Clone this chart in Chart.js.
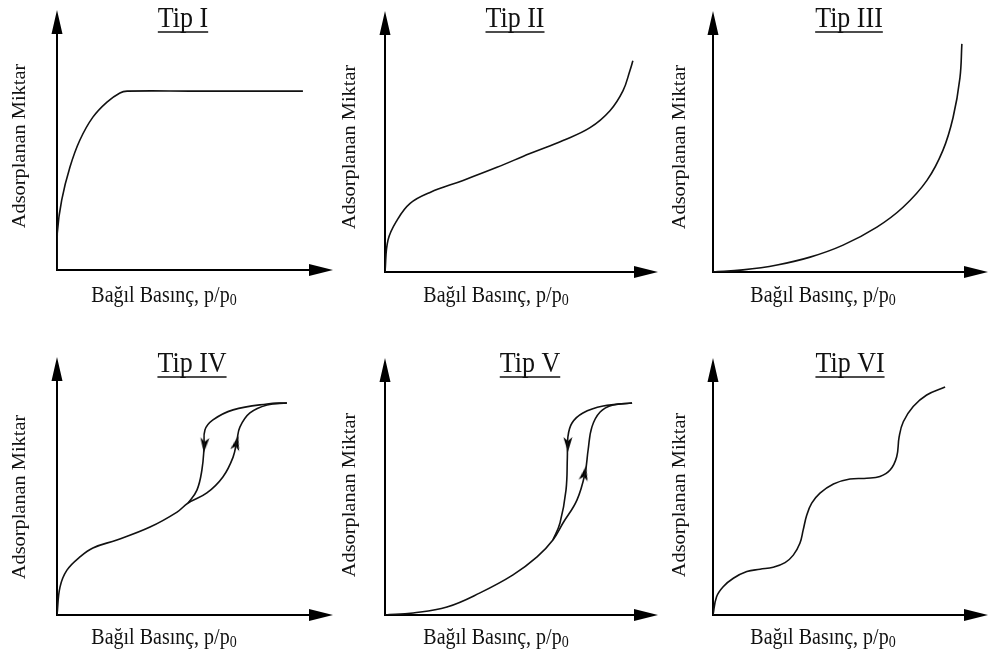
<!DOCTYPE html>
<html>
<head>
<meta charset="utf-8">
<script src="https://cdn.jsdelivr.net/npm/chart.js@4/dist/chart.umd.min.js"></script>
<style>
  html, body { margin: 0; padding: 0; background: #fff; }
  #wrap { position: relative; width: 990px; height: 654px; }
  #wrap canvas { position: absolute; left: 0; top: 0; }
</style>
</head>
<body>
<div id="wrap">
  <canvas id="c0" width="990" height="654"></canvas>
  <canvas id="c1" width="990" height="654"></canvas>
  <canvas id="c2" width="990" height="654"></canvas>
  <canvas id="c3" width="990" height="654"></canvas>
  <canvas id="c4" width="990" height="654"></canvas>
  <canvas id="c5" width="990" height="654"></canvas>
</div>
<script>
// --- textes
const titles = ['Tip I', 'Tip II', 'Tip III', 'Tip IV', 'Tip V', 'Tip VI'];
const xLabel = 'Bağıl Basınç, p/p';
const xLabelSub = '0';
const yLabel = 'Adsorplanan Miktar';

// --- courbes (axes 0..100, 100 = pointe de la flèche)
const tip1X = [0, 0.1, 1.7, 4.7, 8.3, 13, 18.1, 22.8, 25.4, 50, 89.1];
const tip1Y = [0, 14.2, 26.9, 39.6, 50, 58.8, 64.6, 68.1, 68.8, 68.8, 68.8];

const tip2X = [0, 1.1, 4.4, 9.2, 16.5, 28.6, 41, 53.1, 65.2, 75.1, 82.4, 87.2, 89.7, 90.8];
const tip2Y = [0, 12.2, 19.8, 26.3, 30.5, 35.1, 40.1, 45.4, 50.4, 55.3, 61.8, 69.5, 77.1, 80.9];

const tip3X = [0, 10.9, 23.3, 35.3, 47.3, 59.6, 69.1, 77.8, 83.6, 87.3, 89.8, 90.5];
const tip3Y = [0, 0.8, 2.7, 5.7, 10.3, 17.2, 24.8, 35.1, 46.6, 59.2, 74.4, 87.4];

const tip4AdsX = [0, 1.1, 3.6, 8.3, 13, 21.7, 33.7, 43.5, 47.5, 54.3, 60.1, 63.8, 65.2, 66.3, 69.9, 76.1, 83.3];
const tip4AdsY = [0, 10.9, 17.4, 22.5, 26, 29.1, 34.1, 39.9, 43.4, 47.3, 53.5, 61.2, 67.8, 72.9, 78.3, 81.4, 82.2];
const tip4DesX = [83.3, 76.1, 63.8, 56.5, 53.6, 53.3, 52.5, 50.7, 47.5];
const tip4DesY = [82.2, 81.8, 79.5, 75.6, 71.7, 65.1, 56.2, 48.4, 43.4];
const tip4ArrowX = [53.4, 65.0];
const tip4ArrowY = [66, 66.5];
const tip4ArrowRot = [184, 14];

const tip5AdsX = [0, 10.3, 22.7, 34.8, 46.9, 55.7, 61.5, 65.2, 70.3, 73.3, 74.4, 75.8, 78.8, 83.5, 90.5];
const tip5AdsY = [0, 0.8, 3.1, 8.6, 15.6, 22.6, 29.2, 35.8, 44.7, 55.3, 64.2, 73.2, 79, 81.7, 82.5];
const tip5DesX = [90.5, 79.9, 72.5, 68.5, 67.0, 66.8, 66.3, 64.1, 61.5];
const tip5DesY = [82.5, 81.3, 78.6, 74.7, 69.3, 61.5, 48.6, 35.8, 29.2];
const tip5ArrowX = [67.0, 73.1];
const tip5ArrowY = [66.5, 55];
const tip5ArrowRot = [180, 12];

const tip6X = [0, 1.3, 3.7, 7.4, 12.3, 17.1, 21.9, 26.2, 29.2, 31.6, 32.8, 34.1, 35.9, 38.9, 43.8, 49.8, 55.9, 60.7, 64.4, 66.8, 67.7, 69.2, 72.8, 77.7, 84.4];
const tip6Y = [0, 7.1, 11.0, 14.3, 16.9, 17.8, 18.6, 20.4, 23.3, 27.9, 33.1, 38.9, 43.5, 47.4, 51, 52.9, 53.2, 53.9, 56.4, 61.6, 69.4, 75.2, 81.1, 85.6, 88.7];

// --- placement des 6 panneaux (pixels)
const frames = [
  { ox: 57,  oy: 270, tx: 333, ty: 10,  titleX: 183, titleY: 27,  xlX: 164, xlY: 296, ylX: 20,  ylY: 146 },
  { ox: 385, oy: 272, tx: 658, ty: 11,  titleX: 515, titleY: 27,  xlX: 496, xlY: 296, ylX: 350, ylY: 147 },
  { ox: 713, oy: 272, tx: 988, ty: 11,  titleX: 849, titleY: 27,  xlX: 823, xlY: 296, ylX: 680, ylY: 147 },
  { ox: 57,  oy: 615, tx: 333, ty: 357, titleX: 192, titleY: 372, xlX: 164, xlY: 638, ylX: 20,  ylY: 497 },
  { ox: 385, oy: 615, tx: 658, ty: 358, titleX: 530, titleY: 372, xlX: 496, xlY: 638, ylX: 350, ylY: 495 },
  { ox: 713, oy: 615, tx: 988, ty: 358, titleX: 850, titleY: 372, xlX: 823, xlY: 638, ylX: 680, ylY: 495 }
];

const serif = '"Liberation Serif", "DejaVu Serif", serif';
const stretch = 1.13; // le texte de l'original est un peu étiré en hauteur

function pts(xs, ys) {
  return xs.map((x, i) => ({ x: x, y: ys[i] }));
}

// petite tête de flèche pour les branches d'hystérésis
const arrowHead = document.createElement('canvas');
arrowHead.width = 10;
arrowHead.height = 16;
(function () {
  const c = arrowHead.getContext('2d');
  c.fillStyle = '#000';
  c.beginPath();
  c.moveTo(5, 0);
  c.lineTo(9.5, 15);
  c.lineTo(5, 11);
  c.lineTo(0.5, 15);
  c.closePath();
  c.fill();
})();

function curve(data) {
  return {
    data: data,
    showLine: true,
    borderColor: '#111',
    borderWidth: 1.6,
    pointRadius: 0,
    tension: 0.4,
    fill: false
  };
}

function arrows(xs, ys, rot) {
  return {
    data: pts(xs, ys),
    showLine: false,
    pointStyle: arrowHead,
    pointRadius: 5,
    rotation: rot,
    borderWidth: 0
  };
}

const panelSets = [
  [curve(pts(tip1X, tip1Y))],
  [curve(pts(tip2X, tip2Y))],
  [curve(pts(tip3X, tip3Y))],
  [curve(pts(tip4AdsX, tip4AdsY)), curve(pts(tip4DesX, tip4DesY)), arrows(tip4ArrowX, tip4ArrowY, tip4ArrowRot)],
  [curve(pts(tip5AdsX, tip5AdsY)), curve(pts(tip5DesX, tip5DesY)), arrows(tip5ArrowX, tip5ArrowY, tip5ArrowRot)],
  [curve(pts(tip6X, tip6Y))]
];

// axes avec flèches, titre souligné et étiquettes
const isoDecor = {
  id: 'isoDecor',
  beforeDatasetsDraw(chart, args, opts) {
    const ctx = chart.ctx;
    const f = opts.frame;
    const ox = chart.scales.x.getPixelForValue(0);
    const oy = chart.scales.y.getPixelForValue(0);
    const tx = chart.scales.x.getPixelForValue(100);
    const ty = chart.scales.y.getPixelForValue(100);

    ctx.save();
    ctx.strokeStyle = '#000';
    ctx.fillStyle = '#000';
    ctx.lineWidth = 2;
    ctx.beginPath();
    ctx.moveTo(ox, oy + 1);
    ctx.lineTo(ox, ty + 12);
    ctx.moveTo(ox - 1, oy);
    ctx.lineTo(tx - 12, oy);
    ctx.stroke();

    ctx.beginPath();
    ctx.moveTo(ox, ty);
    ctx.lineTo(ox - 5.5, ty + 24);
    ctx.lineTo(ox + 5.5, ty + 24);
    ctx.closePath();
    ctx.moveTo(tx, oy);
    ctx.lineTo(tx - 24, oy - 6);
    ctx.lineTo(tx - 24, oy + 6);
    ctx.closePath();
    ctx.fill();
    ctx.restore();

    // titre souligné
    ctx.save();
    ctx.fillStyle = '#111';
    ctx.font = '26px ' + serif;
    ctx.textAlign = 'center';
    ctx.textBaseline = 'alphabetic';
    const tw = ctx.measureText(opts.title).width;
    ctx.translate(f.titleX, f.titleY);
    ctx.scale(1, stretch);
    ctx.fillText(opts.title, 0, 0);
    ctx.restore();
    ctx.save();
    ctx.strokeStyle = '#111';
    ctx.lineWidth = 1.5;
    ctx.beginPath();
    ctx.moveTo(f.titleX - tw / 2, f.titleY + 5);
    ctx.lineTo(f.titleX + tw / 2, f.titleY + 5);
    ctx.stroke();
    ctx.restore();

    // étiquette x avec indice
    ctx.save();
    ctx.fillStyle = '#111';
    ctx.textAlign = 'left';
    ctx.textBaseline = 'middle';
    ctx.font = '20px ' + serif;
    const w1 = ctx.measureText(xLabel).width;
    ctx.font = '14px ' + serif;
    const w2 = ctx.measureText(xLabelSub).width;
    ctx.translate(f.xlX - (w1 + w2) / 2, f.xlY);
    ctx.scale(1, stretch);
    ctx.font = '20px ' + serif;
    ctx.fillText(xLabel, 0, 0);
    ctx.font = '14px ' + serif;
    ctx.fillText(xLabelSub, w1, 4);
    ctx.restore();

    // étiquette y
    ctx.save();
    ctx.fillStyle = '#111';
    ctx.translate(f.ylX, f.ylY);
    ctx.scale(1, stretch);
    ctx.rotate(-Math.PI / 2);
    ctx.font = '18px ' + serif;
    ctx.textAlign = 'center';
    ctx.textBaseline = 'middle';
    ctx.fillText(yLabel, 0, 0);
    ctx.restore();
  }
};

panelSets.forEach((sets, i) => {
  const f = frames[i];
  new Chart(document.getElementById('c' + i), {
    type: 'scatter',
    data: { datasets: sets },
    options: {
      responsive: false,
      animation: false,
      devicePixelRatio: 1,
      events: [],
      layout: {
        padding: { left: f.ox, top: f.ty, right: 990 - f.tx, bottom: 654 - f.oy }
      },
      scales: {
        x: { type: 'linear', min: 0, max: 100, display: false },
        y: { type: 'linear', min: 0, max: 100, display: false }
      },
      plugins: {
        legend: { display: false },
        tooltip: { enabled: false },
        isoDecor: { frame: f, title: titles[i] }
      }
    },
    plugins: [isoDecor]
  });
});
</script>
</body>
</html>
